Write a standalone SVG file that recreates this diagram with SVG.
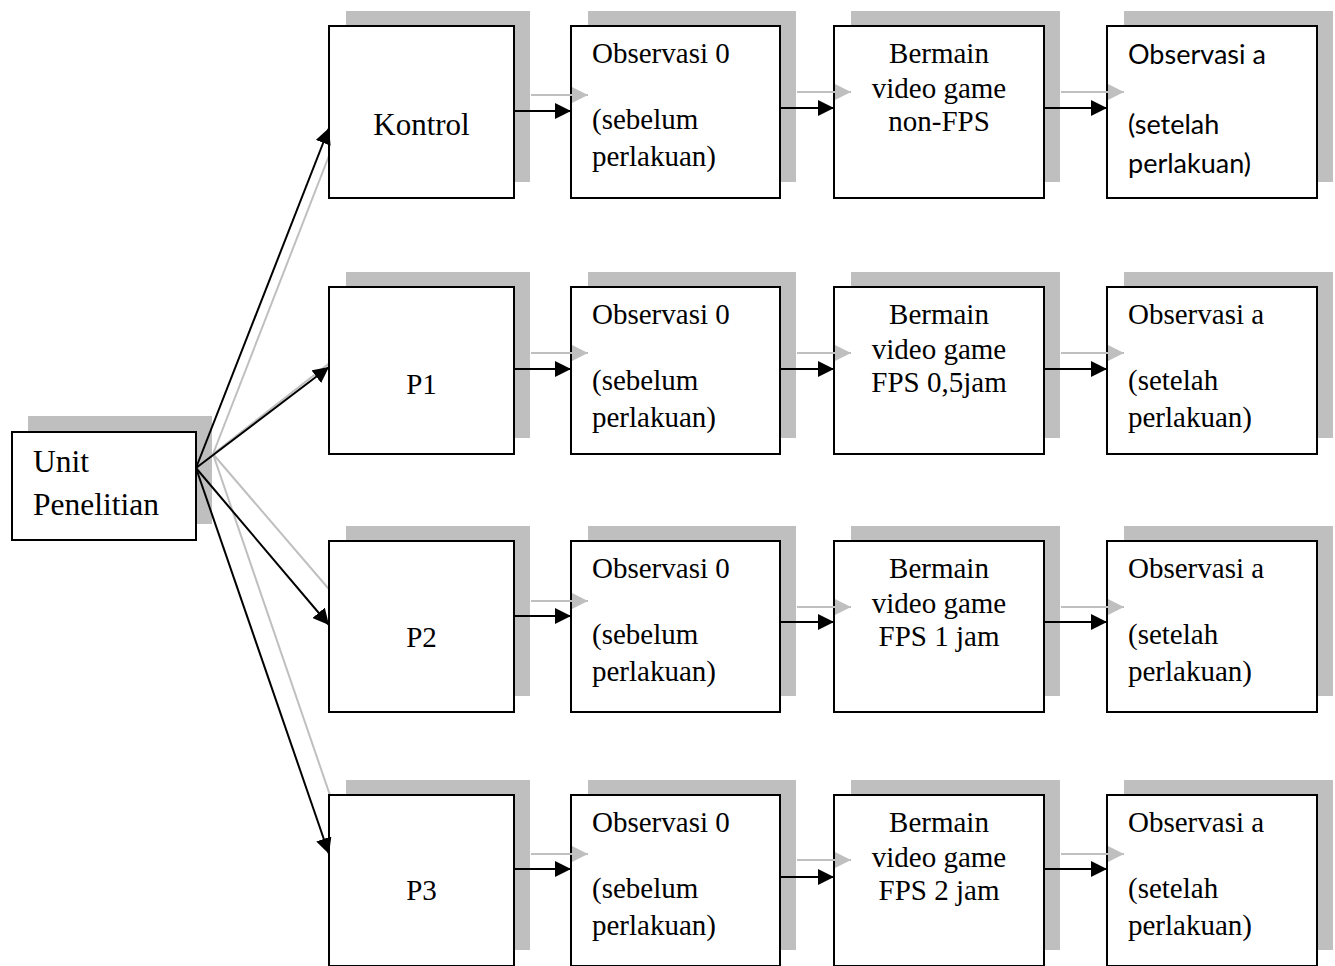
<svg xmlns="http://www.w3.org/2000/svg" width="1335" height="966" viewBox="0 0 1335 966">
<defs>
<style>
.sh{fill:#bfbfbf;stroke:none}
.bx{fill:#fff;stroke:#000;stroke-width:2}
.t{font-family:"Liberation Serif","Times New Roman",serif;font-size:29px;fill:#000}
.tc{text-anchor:middle}
.ts{font-family:Lato,"Liberation Sans",sans-serif;font-size:27px;fill:#000}
.lk{stroke:#000;stroke-width:2;fill:none;marker-end:url(#ak)}
.lg{stroke:#bfbfbf;stroke-width:2;fill:none;marker-end:url(#ag)}
</style>
<marker id="ak" markerUnits="userSpaceOnUse" markerWidth="16" markerHeight="16" viewBox="0 0 16 16" refX="16" refY="8" orient="auto"><path d="M0,0 L16,8 L0,16 z" fill="#000"/></marker>
<marker id="ag" markerUnits="userSpaceOnUse" markerWidth="16" markerHeight="16" viewBox="0 0 16 16" refX="16" refY="8" orient="auto"><path d="M0,0 L16,8 L0,16 z" fill="#bfbfbf"/></marker>
</defs>
<rect width="1335" height="966" fill="#fff"/>

<g id="shadows">
<rect class="sh" x="28" y="416" width="184" height="108"/>
<rect class="sh" x="346" y="11" width="184" height="171"/>
<rect class="sh" x="588" y="11" width="208" height="171"/>
<rect class="sh" x="851" y="11" width="209" height="171"/>
<rect class="sh" x="1124" y="11" width="209" height="171"/>
<rect class="sh" x="346" y="272" width="184" height="166"/>
<rect class="sh" x="588" y="272" width="208" height="166"/>
<rect class="sh" x="851" y="272" width="209" height="166"/>
<rect class="sh" x="1124" y="272" width="209" height="166"/>
<rect class="sh" x="346" y="526" width="184" height="170"/>
<rect class="sh" x="588" y="526" width="208" height="170"/>
<rect class="sh" x="851" y="526" width="209" height="170"/>
<rect class="sh" x="1124" y="526" width="209" height="170"/>
<rect class="sh" x="346" y="780" width="184" height="170"/>
<rect class="sh" x="588" y="780" width="208" height="170"/>
<rect class="sh" x="851" y="780" width="209" height="170"/>
<rect class="sh" x="1124" y="780" width="209" height="170"/>
</g>

<g id="fan-shadows">
<line class="lg" x1="213" y1="454" x2="346" y2="112"/>
<line class="lg" x1="213" y1="454" x2="345" y2="351"/>
<line class="lg" x1="213" y1="454" x2="346" y2="609"/>
<line class="lg" x1="213" y1="454" x2="345" y2="839"/>
</g>

<g id="unit"><rect class="bx" x="12" y="432" width="184" height="108"/><text class="t" style="font-size:31.5px" x="33" y="472">Unit</text><text class="t" style="font-size:31.5px" x="33" y="515">Penelitian</text></g>

<g id="kontrol"><rect class="bx" x="329" y="26" width="185" height="172"/><text class="t tc" style="font-size:31px" x="421.5" y="135">Kontrol</text></g>
<g id="obs0-k"><rect class="bx" x="571" y="26" width="209" height="172"/><text class="t" x="592" y="63">Observasi 0</text><text class="t" x="592" y="129">(sebelum</text><text class="t" x="592" y="166">perlakuan)</text></g>
<g id="main-k"><rect class="bx" x="834" y="26" width="210" height="172"/><text class="t tc" x="939" y="63">Bermain</text><text class="t tc" x="939" y="98">video game</text><text class="t tc" x="939" y="131">non-FPS</text></g>
<g id="obsa-k"><rect class="bx" x="1107" y="26" width="210" height="172"/><text class="ts" x="1128" y="64">Observasi a</text><text class="ts" x="1128" y="134">(setelah</text><text class="ts" x="1128" y="173">perlakuan)</text></g>

<g id="p1"><rect class="bx" x="329" y="287" width="185" height="167"/><text class="t tc" x="421.5" y="394">P1</text></g>
<g id="obs0-p1"><rect class="bx" x="571" y="287" width="209" height="167"/><text class="t" x="592" y="324">Observasi 0</text><text class="t" x="592" y="390">(sebelum</text><text class="t" x="592" y="427">perlakuan)</text></g>
<g id="main-p1"><rect class="bx" x="834" y="287" width="210" height="167"/><text class="t tc" x="939" y="324">Bermain</text><text class="t tc" x="939" y="359">video game</text><text class="t tc" x="939" y="392">FPS 0,5jam</text></g>
<g id="obsa-p1"><rect class="bx" x="1107" y="287" width="210" height="167"/><text class="t" x="1128" y="324">Observasi a</text><text class="t" x="1128" y="390">(setelah</text><text class="t" x="1128" y="427">perlakuan)</text></g>

<g id="p2"><rect class="bx" x="329" y="541" width="185" height="171"/><text class="t tc" x="421.5" y="647">P2</text></g>
<g id="obs0-p2"><rect class="bx" x="571" y="541" width="209" height="171"/><text class="t" x="592" y="578">Observasi 0</text><text class="t" x="592" y="644">(sebelum</text><text class="t" x="592" y="681">perlakuan)</text></g>
<g id="main-p2"><rect class="bx" x="834" y="541" width="210" height="171"/><text class="t tc" x="939" y="578">Bermain</text><text class="t tc" x="939" y="613">video game</text><text class="t tc" x="939" y="646">FPS 1 jam</text></g>
<g id="obsa-p2"><rect class="bx" x="1107" y="541" width="210" height="171"/><text class="t" x="1128" y="578">Observasi a</text><text class="t" x="1128" y="644">(setelah</text><text class="t" x="1128" y="681">perlakuan)</text></g>

<g id="p3"><rect class="bx" x="329" y="795" width="185" height="171"/><text class="t tc" x="421.5" y="900">P3</text></g>
<g id="obs0-p3"><rect class="bx" x="571" y="795" width="209" height="171"/><text class="t" x="592" y="832">Observasi 0</text><text class="t" x="592" y="898">(sebelum</text><text class="t" x="592" y="935">perlakuan)</text></g>
<g id="main-p3"><rect class="bx" x="834" y="795" width="210" height="171"/><text class="t tc" x="939" y="832">Bermain</text><text class="t tc" x="939" y="867">video game</text><text class="t tc" x="939" y="900">FPS 2 jam</text></g>
<g id="obsa-p3"><rect class="bx" x="1107" y="795" width="210" height="171"/><text class="t" x="1128" y="832">Observasi a</text><text class="t" x="1128" y="898">(setelah</text><text class="t" x="1128" y="935">perlakuan)</text></g>

<g id="connectors">
<line class="lk" x1="196" y1="468" x2="329" y2="128"/>
<line class="lk" x1="196" y1="468" x2="329" y2="367"/>
<line class="lk" x1="196" y1="468" x2="329" y2="625"/>
<line class="lk" x1="196" y1="468" x2="329" y2="854"/>

<line class="lg" x1="531" y1="95" x2="588" y2="95"/>
<line class="lg" x1="797" y1="92" x2="851" y2="92"/>
<line class="lg" x1="1061" y1="92" x2="1124" y2="92"/>
<line class="lk" x1="514" y1="111" x2="571" y2="111"/>
<line class="lk" x1="780" y1="108" x2="834" y2="108"/>
<line class="lk" x1="1044" y1="108" x2="1107" y2="108"/>

<line class="lg" x1="531" y1="353" x2="588" y2="353"/>
<line class="lg" x1="797" y1="353" x2="851" y2="353"/>
<line class="lg" x1="1061" y1="353" x2="1124" y2="353"/>
<line class="lk" x1="514" y1="369" x2="571" y2="369"/>
<line class="lk" x1="780" y1="369" x2="834" y2="369"/>
<line class="lk" x1="1044" y1="369" x2="1107" y2="369"/>

<line class="lg" x1="531" y1="601" x2="588" y2="601"/>
<line class="lg" x1="797" y1="607" x2="851" y2="607"/>
<line class="lg" x1="1061" y1="607" x2="1124" y2="607"/>
<line class="lk" x1="514" y1="616" x2="571" y2="616"/>
<line class="lk" x1="780" y1="622" x2="834" y2="622"/>
<line class="lk" x1="1044" y1="622" x2="1107" y2="622"/>

<line class="lg" x1="531" y1="854" x2="588" y2="854"/>
<line class="lg" x1="797" y1="860" x2="851" y2="860"/>
<line class="lg" x1="1061" y1="854" x2="1124" y2="854"/>
<line class="lk" x1="514" y1="869" x2="571" y2="869"/>
<line class="lk" x1="780" y1="877" x2="834" y2="877"/>
<line class="lk" x1="1044" y1="869" x2="1107" y2="869"/>
</g>
</svg>
